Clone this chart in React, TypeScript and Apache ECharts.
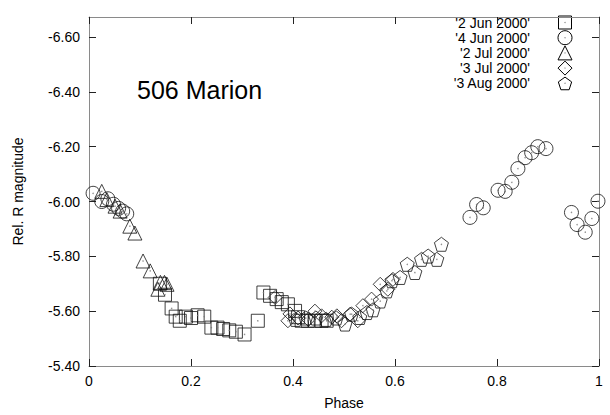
import React, { useEffect, useRef } from "react";
import * as echarts from "echarts";

const seriesNames = ["'2 Jun 2000'", "'4 Jun 2000'", "'2 Jul 2000'", "'3 Jul 2000'", "'3 Aug 2000'"];

const jun2: number[][] = [
  [0.139, -5.70], [0.149, -5.66], [0.162, -5.61], [0.17, -5.58], [0.178, -5.565], [0.19, -5.58],
  [0.2, -5.575], [0.213, -5.585], [0.226, -5.58], [0.24, -5.54], [0.252, -5.54], [0.263, -5.535],
  [0.275, -5.53], [0.288, -5.525], [0.305, -5.515], [0.331, -5.565], [0.342, -5.668], [0.355, -5.656],
  [0.368, -5.644], [0.378, -5.633], [0.39, -5.625], [0.404, -5.601], [0.41, -5.578], [0.417, -5.565],
  [0.429, -5.565], [0.443, -5.565], [0.456, -5.565], [0.466, -5.565],
];

const jun4: number[][] = [
  [0.008, -6.03], [0.025, -6.0], [0.037, -6.01], [0.048, -5.99], [0.058, -5.975], [0.066, -5.965], [0.074, -5.955],
  [0.747, -5.942], [0.76, -5.989], [0.773, -5.977], [0.802, -6.041], [0.816, -6.037], [0.829, -6.07],
  [0.841, -6.12], [0.855, -6.16], [0.868, -6.178], [0.88, -6.2], [0.896, -6.193], [0.946, -5.96],
  [0.957, -5.916], [0.973, -5.888], [0.986, -5.938], [0.998, -6.001],
];

const jul2: number[][] = [
  [0.025, -6.037], [0.035, -6.007], [0.051, -5.983], [0.061, -5.965], [0.08, -5.91], [0.09, -5.885],
  [0.106, -5.783], [0.12, -5.747], [0.135, -5.68], [0.14, -5.705], [0.148, -5.705], [0.153, -5.698],
];

const jul3: number[][] = [
  [0.365, -5.65], [0.39, -5.565], [0.394, -5.59], [0.41, -5.575], [0.43, -5.57], [0.443, -5.6],
  [0.456, -5.583], [0.476, -5.578], [0.486, -5.583], [0.495, -5.565], [0.512, -5.589], [0.527, -5.565],
  [0.537, -5.62], [0.554, -5.644], [0.571, -5.698], [0.586, -5.68], [0.596, -5.716],
];

const aug3: number[][] = [
  [0.405, -5.57], [0.425, -5.575], [0.445, -5.575], [0.465, -5.57], [0.485, -5.575], [0.502, -5.553],
  [0.515, -5.589], [0.531, -5.577], [0.545, -5.595], [0.557, -5.605], [0.571, -5.637], [0.584, -5.674],
  [0.594, -5.711], [0.61, -5.723], [0.624, -5.771], [0.639, -5.741], [0.652, -5.789], [0.665, -5.801],
  [0.682, -5.789], [0.691, -5.844],
];

const yTicks = [-6.6, -6.4, -6.2, -6.0, -5.8, -5.6, -5.4];
const xTicks = [0, 0.2, 0.4, 0.6, 0.8, 1];

const PENTAGON = "path://M0,-1 L0.951,-0.309 L0.588,0.809 L-0.588,0.809 L-0.951,-0.309 Z";
const symbols = ["rect", "circle", "triangle", "diamond", PENTAGON];
const allData = [jun2, jun4, jul2, jul3, aug3];

const FONT = "'Liberation Sans', Arial, Helvetica, sans-serif";

export default function App() {
  const ref = useRef<HTMLDivElement>(null);
  useEffect(() => {
    document.body.style.margin = "0";
    const chart = echarts.init(ref.current!, null, { renderer: "svg" });
    const frameLine = { show: true, onZero: false, lineStyle: { color: "#8a8a8a", width: 1 } };
    const tickStyle = { color: "#222", width: 1 };

    const legendX = 530;
    const symX = 565;
    const legendY0 = 22.5;
    const legendDy = 15.2;
    const graphics: any[] = [
      {
        type: "text",
        left: 137,
        top: 77,
        style: { text: "506 Marion", font: `25px ${FONT}`, fill: "#000" },
      },
    ];
    seriesNames.forEach((n, i) => {
      const y = legendY0 + i * legendDy;
      graphics.push({
        type: "text",
        x: legendX,
        y,
        style: { text: n, font: `14px ${FONT}`, fill: "#000", align: "right", verticalAlign: "middle" },
      });
      const st = { fill: "none", stroke: "#000", lineWidth: 1 };
      const r = 6.5;
      if (i === 0) graphics.push({ type: "rect", shape: { x: symX - r, y: y - r, width: 2 * r, height: 2 * r }, style: st });
      if (i === 1) graphics.push({ type: "circle", shape: { cx: symX, cy: y, r: 7 }, style: st });
      if (i === 2)
        graphics.push({ type: "polygon", shape: { points: [[symX, y - 7], [symX + 7, y + 7], [symX - 7, y + 7]] }, style: st });
      if (i === 3)
        graphics.push({ type: "polygon", shape: { points: [[symX, y - 7], [symX + 7, y], [symX, y + 7], [symX - 7, y]] }, style: st });
      if (i === 4) {
        const pts: number[][] = [];
        for (let k = 0; k < 5; k++) {
          const a = -Math.PI / 2 + (k * 2 * Math.PI) / 5;
          pts.push([symX + 7 * Math.cos(a), y + 7 * Math.sin(a) + 0.8]);
        }
        graphics.push({ type: "polygon", shape: { points: pts }, style: st });
      }
      graphics.push({ type: "circle", shape: { cx: symX, cy: y, r: 0.6 }, style: { fill: "#777" } });
    });

    const dots: number[][] = ([] as number[][]).concat(...allData);

    chart.setOption({
      animation: false,
      backgroundColor: "#fff",
      grid: { left: 89, top: 17, width: 510, height: 350, containLabel: false },
      xAxis: [
        {
          type: "value",
          min: 0,
          max: 1,
          interval: 0.2,
          name: "Phase",
          nameLocation: "middle",
          nameGap: 30,
          nameTextStyle: { fontFamily: FONT, fontSize: 14, color: "#000" },
          axisLine: frameLine,
          axisTick: { show: true, inside: true, length: 7, lineStyle: tickStyle, customValues: xTicks },
          axisLabel: { fontFamily: FONT, fontSize: 14, color: "#000", margin: 8, customValues: xTicks },
          splitLine: { show: false },
        },
        {
          type: "value",
          position: "top",
          min: 0,
          max: 1,
          interval: 0.2,
          axisLine: frameLine,
          axisTick: { show: true, inside: true, length: 7, lineStyle: tickStyle, customValues: xTicks },
          axisLabel: { show: false },
          splitLine: { show: false },
        },
      ],
      yAxis: [
        {
          type: "value",
          inverse: true,
          min: -6.673,
          max: -5.4,
          name: "Rel. R magnitude",
          nameLocation: "middle",
          nameGap: 64,
          nameTextStyle: { fontFamily: FONT, fontSize: 14, color: "#000" },
          axisLine: frameLine,
          axisTick: { show: true, inside: true, length: 7, lineStyle: tickStyle, customValues: yTicks },
          axisLabel: {
            fontFamily: FONT,
            fontSize: 14,
            color: "#000",
            margin: 9,
            customValues: yTicks,
            formatter: (v: number) => v.toFixed(2),
          },
          splitLine: { show: false },
        },
        {
          type: "value",
          position: "right",
          inverse: true,
          min: -6.673,
          max: -5.4,
          axisLine: frameLine,
          axisTick: { show: true, inside: true, length: 7, lineStyle: tickStyle, customValues: yTicks },
          axisLabel: { show: false },
          splitLine: { show: false },
        },
      ],
      series: [
        ...allData.map((d, i) => ({
          name: seriesNames[i],
          type: "scatter",
          data: d,
          symbol: symbols[i],
          symbolSize: i === 0 ? 13 : 14,
          itemStyle: { color: "rgba(0,0,0,0)", borderColor: "#111", borderWidth: 1 },
          emphasis: { disabled: true },
        })),
        {
          name: "dots",
          type: "scatter",
          data: dots,
          symbol: "circle",
          symbolSize: 1.5,
          itemStyle: { color: "#777" },
          silent: true,
        },
      ],
      graphic: graphics,
    });
    return () => chart.dispose();
  }, []);
  return <div ref={ref} style={{ width: 610, height: 415 }} />;
}
